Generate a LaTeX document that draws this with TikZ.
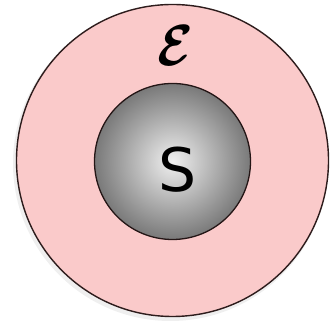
\documentclass[tikz,border=0pt]{standalone}
\usepackage{fontspec}
\newfontfamily\sansS{DejaVu Sans}
\definecolor{pinkfill}{RGB}{250,202,202}
\definecolor{rimcol}{RGB}{45,28,28}
\newcommand{\envletter}{\mbox{\boldmath$\mathcal{E}$}}
\tikzset{
  outerdisc/.style={circle, draw=rimcol, line width=1.4pt, fill=pinkfill, minimum size=312pt, inner sep=0pt},
  innerdisc/.style={circle, draw=rimcol!80!black, line width=1.3pt, inner color=gray!12, outer color=gray!95!black, minimum size=156pt, inner sep=0pt},
  lbl/.style={inner sep=0pt, text=black}
}
\begin{document}
\begin{tikzpicture}[x=1pt,y=1pt]
\useasboundingbox (0,0) rectangle (330,323);
\fill[gray!25, opacity=0.5] (170.5,159.5) circle (157.5);
\node[outerdisc] (env) at (172.5,162.5) {};
\node[innerdisc] (sys) at (172.5,161.5) {};
\node[lbl, xscale=5.2, yscale=5.8] (E) at (175,277) {\envletter};
\node[lbl] (S) at (178,153) {\fontsize{60}{64}\selectfont\sansS S};
\end{tikzpicture}
\end{document}
